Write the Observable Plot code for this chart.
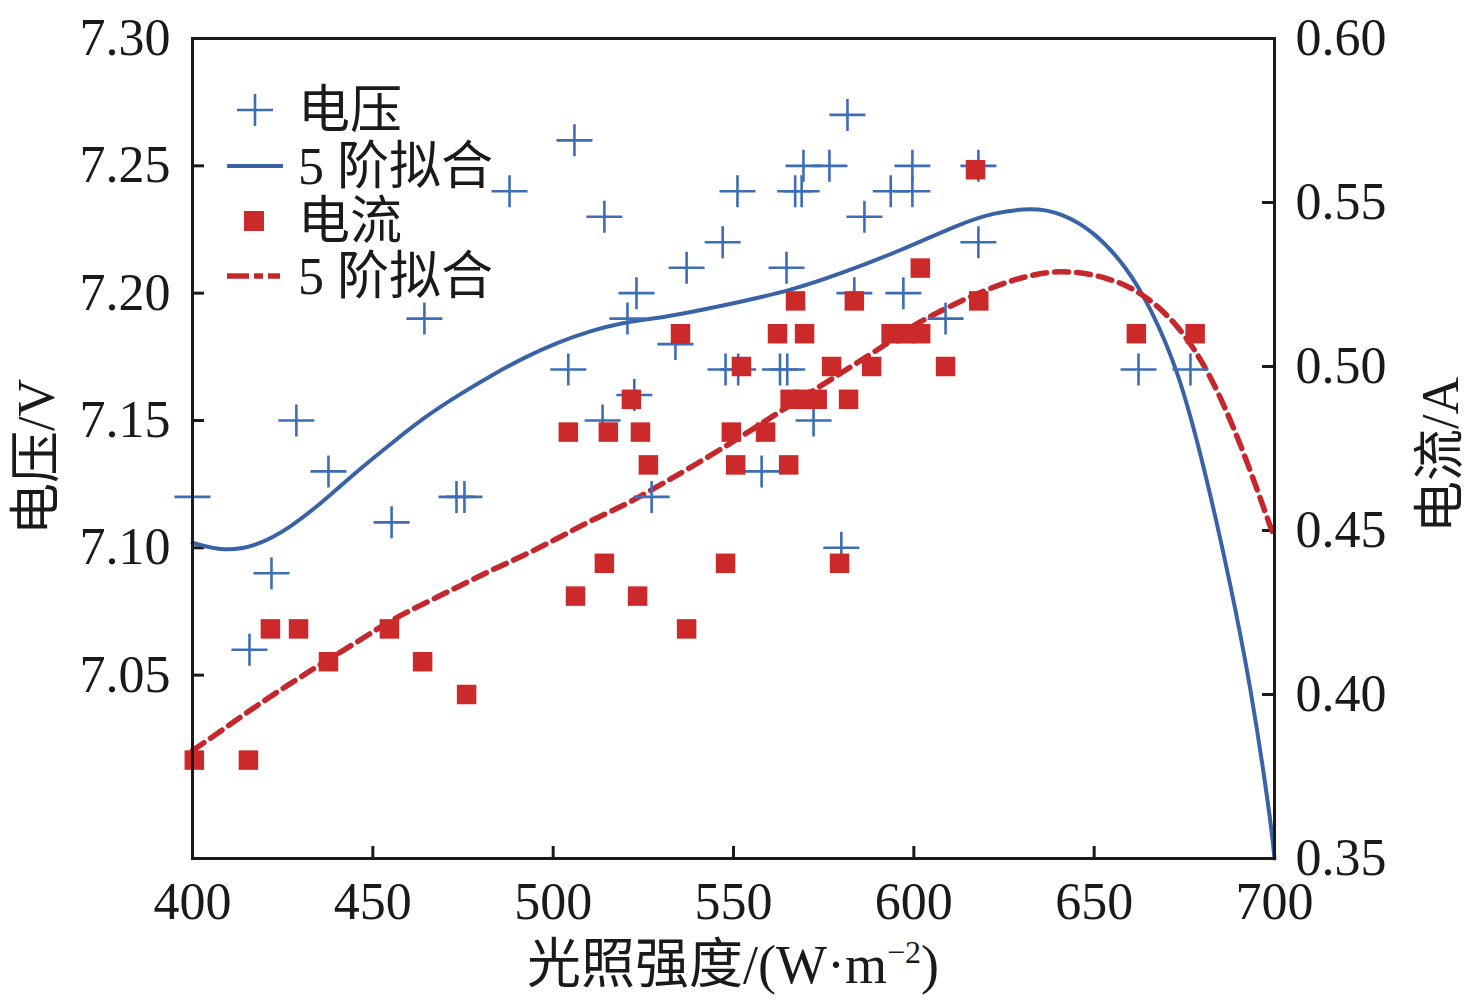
<!DOCTYPE html>
<html><head><meta charset="utf-8">
<script src="https://cdn.jsdelivr.net/npm/d3@7"></script>
<script src="https://cdn.jsdelivr.net/npm/@observablehq/plot@0.6"></script>
<style>body{margin:0;background:#fff}</style>
</head><body><div id="chart"></div>
<script>
// ---- data ----
const voltX = [400, 415.8, 421.9, 428.8, 437.7, 455.2, 464.3, 473.2, 475.4, 487.9, 504.2, 505.9, 513.7, 514.2, 520.6, 522.5, 523.1, 527.3, 533.9, 537.0, 547.0, 547.8, 551.1, 551.3, 557.8, 562.9, 564.7, 564.9, 567.1, 568.9, 569.4, 572.2, 576.6, 579.9, 581.6, 583.5, 586.3, 593.6, 597.1, 599.6, 599.6, 608.8, 617.9, 617.9, 662.3, 676.7];
const voltV = [7.12, 7.06, 7.09, 7.15, 7.13, 7.11, 7.19, 7.12, 7.12, 7.24, 7.17, 7.26, 7.15, 7.23, 7.19, 7.16, 7.20, 7.12, 7.18, 7.21, 7.22, 7.17, 7.24, 7.17, 7.13, 7.17, 7.21, 7.17, 7.24, 7.24, 7.25, 7.15, 7.25, 7.10, 7.27, 7.20, 7.23, 7.24, 7.20, 7.25, 7.24, 7.19, 7.25, 7.22, 7.17, 7.17];

const currX = [400.5, 415.5, 421.6, 429.4, 437.7, 454.6, 463.8, 476.0, 504.2, 506.2, 514.2, 515.3, 521.7, 523.4, 524.2, 526.4, 535.3, 537.0, 547.8, 549.4, 550.6, 552.2, 558.9, 562.2, 565.3, 565.7, 567.2, 569.4, 569.7, 573.2, 577.2, 579.4, 581.9, 583.5, 588.3, 593.7, 597.7, 601.9, 601.8, 608.8, 617.1, 618.0, 661.7, 678.0];
const currI = [0.38, 0.38, 0.42, 0.42, 0.41, 0.42, 0.41, 0.40, 0.48, 0.43, 0.44, 0.48, 0.49, 0.43, 0.48, 0.47, 0.51, 0.42, 0.44, 0.48, 0.47, 0.50, 0.48, 0.51, 0.47, 0.49, 0.52, 0.49, 0.51, 0.49, 0.50, 0.44, 0.49, 0.52, 0.50, 0.51, 0.51, 0.51, 0.53, 0.50, 0.56, 0.52, 0.51, 0.51];

// 5th-order fit curves
const fitVX = [400, 408.7, 417.9, 427.1, 436.4, 445.7, 454.9, 464.1, 473.4, 482.6, 491.9, 501.1, 510.3, 519.6, 527.0, 538.1, 551.9, 565.8, 579.7, 596.3, 612.9, 622.1, 632.9, 640.7, 649.8, 659.2, 665.6, 673.1, 680.5, 687.8, 693.3, 698.9, 700];
const fitVY = [7.1020, 7.0985, 7.1007, 7.1079, 7.1184, 7.1302, 7.1407, 7.1511, 7.1597, 7.1675, 7.1747, 7.1806, 7.1852, 7.1885, 7.1898, 7.1925, 7.1966, 7.2010, 7.2076, 7.2167, 7.2273, 7.2316, 7.2336, 7.2316, 7.2245, 7.2100, 7.1943, 7.1707, 7.1320, 7.0858, 7.0465, 6.9938, 6.978];

const fitIX = [400, 408.7, 417.9, 427.1, 436.4, 445.7, 454.9, 464.1, 473.4, 482.6, 491.9, 501.1, 510.3, 519.6, 527.0, 538.1, 551.9, 563.9, 579.7, 585.2, 593.5, 599.1, 612.9, 626.8, 640.7, 654.5, 663.7, 673.1, 682.3, 691.4, 698.9, 700];
const fitIY = [0.3829, 0.3895, 0.3967, 0.4033, 0.4099, 0.4160, 0.4226, 0.4277, 0.4327, 0.4378, 0.4424, 0.4475, 0.4530, 0.4576, 0.4622, 0.4692, 0.4784, 0.4870, 0.4979, 0.5018, 0.5076, 0.5122, 0.5201, 0.5265, 0.5299, 0.5271, 0.5222, 0.5131, 0.4979, 0.4744, 0.4509, 0.448];

const xTicks = [400, 450, 500, 550, 600, 650, 700];
const vTicks = [7.05, 7.10, 7.15, 7.20, 7.25, 7.30];
const iTicks = [0.35, 0.40, 0.45, 0.50, 0.55, 0.60];
const vDomain = [6.978, 7.30];
const iDomain = [0.35, 0.60];

const xLabel = "光照强度/(W·m";
const xLabelSup = "−2";
const yLabelLeft = "电压/V";
const yLabelRight = "电流/A";
const legendLabels = ["电压", "5 阶拟合", "电流", "5 阶拟合"];

// ---- helpers ----
const toV = i => vDomain[0] + (i - iDomain[0]) * (vDomain[1] - vDomain[0]) / (iDomain[1] - iDomain[0]);
const toI = v => iDomain[0] + (v - vDomain[0]) * (iDomain[1] - iDomain[0]) / (vDomain[1] - vDomain[0]);

const volt = voltX.map((x, k) => ({x, v: voltV[k]}));
const curr = currX.map((x, k) => ({x, i: currI[k]}));
const fitV = fitVX.map((x, k) => ({x, v: fitVY[k]}));
const fitI = fitIX.map((x, k) => ({x, i: fitIY[k]}));

const W = 1476, H = 1006, mL = 192, mR = 202, mT = 38, mB = 148;
const fw = W - mL - mR, fh = H - mT - mB;
const ink = "#1a1a1a";
const blueDot = "#3d6db5", blueLine = "#3a63a6", red = "#cc2a2a", redLine = "#c4282d";
const font = "'Liberation Serif','Times New Roman','Noto Sans CJK SC',serif";
const plusSym = {draw(ctx) { ctx.moveTo(-18, 0); ctx.lineTo(18, 0); ctx.moveTo(0, -16); ctx.lineTo(0, 16); }};

const chart = Plot.plot({
  width: W, height: H,
  marginLeft: mL, marginRight: mR, marginTop: mT, marginBottom: mB,
  style: {fontFamily: font, fontSize: "52px", background: "#fff", color: ink},
  x: {domain: [400, 700]},
  y: {domain: vDomain},
  marks: [
    Plot.axisX(xTicks, {tickSize: 0, tickPadding: 24, fontSize: 52, label: null, tickFormat: d => String(d)}),
    Plot.axisY(vTicks, {anchor: "left", tickSize: 0, tickPadding: 22, fontSize: 52, label: null, tickFormat: d => d.toFixed(2)}),
    Plot.axisY(iTicks.map(toV), {anchor: "right", tickSize: 0, tickPadding: 21, fontSize: 52, label: null, tickFormat: d => toI(d).toFixed(2)}),
    Plot.tickY(vTicks, {y: d => d, stroke: ink, strokeWidth: 3, insetRight: fw - 12}),
    Plot.tickY(iTicks.map(toV), {y: d => d, stroke: ink, strokeWidth: 3, insetLeft: fw - 12}),
    Plot.tickX(xTicks, {x: d => d, stroke: ink, strokeWidth: 3, insetTop: fh - 12}),
    Plot.line(fitV, {x: "x", y: "v", stroke: blueLine, strokeWidth: 4, curve: "basis"}),
    Plot.line(fitI, {x: "x", y: d => toV(d.i), stroke: redLine, strokeWidth: 5.5, strokeDasharray: "14,8", curve: "basis"}),
    Plot.dot(volt, {x: "x", y: "v", symbol: plusSym, stroke: blueDot, strokeWidth: 2.6, fill: "none"}),
    Plot.dot(curr, {x: "x", y: d => toV(d.i), symbol: "square", r: 11, fill: red, stroke: "none"}),
    Plot.frame({stroke: ink, strokeWidth: 3})
  ]
});

const svg = d3.select(chart);
// axis titles
svg.append("text")
  .attr("transform", "translate(36,457) rotate(-90)")
  .attr("text-anchor", "middle").attr("dy", "0.35em")
  .style("font-size", "52px").style("font-family", font).attr("fill", ink)
  .text(yLabelLeft);
svg.append("text")
  .attr("transform", "translate(1440,455) rotate(-90)")
  .attr("text-anchor", "middle").attr("dy", "0.35em")
  .style("font-size", "52px").style("font-family", font).attr("fill", ink)
  .text(yLabelRight);
const xt = svg.append("text")
  .attr("x", 733).attr("y", 964)
  .attr("text-anchor", "middle").attr("dy", "0.35em")
  .style("font-size", "54px").style("font-family", font).attr("fill", ink);
xt.append("tspan").text(xLabel);
xt.append("tspan").attr("dy", -20).style("font-size", "32px").text(xLabelSup);
xt.append("tspan").attr("dy", 20).text(")");

// legend
const lg = svg.append("g").style("font-family", font).style("font-size", "52px").attr("fill", ink).attr("text-anchor", "start");
const rows = [110, 166, 221, 276];
lg.append("path").attr("d", `M237,${rows[0]}H273M255,${rows[0] - 16}V${rows[0] + 16}`).attr("stroke", blueDot).attr("stroke-width", 2.6).attr("fill", "none");
lg.append("line").attr("x1", 227).attr("x2", 283).attr("y1", rows[1]).attr("y2", rows[1]).attr("stroke", blueLine).attr("stroke-width", 4);
lg.append("rect").attr("x", 244).attr("y", rows[2] - 10).attr("width", 20).attr("height", 20).attr("fill", red);
lg.append("line").attr("x1", 227).attr("x2", 283).attr("y1", rows[3]).attr("y2", rows[3]).attr("stroke", redLine).attr("stroke-width", 5.5).attr("stroke-dasharray", "22,5,9,5,12");
legendLabels.forEach((t, k) => {
  lg.append("text").attr("x", 298).attr("y", rows[k]).attr("dy", "0.35em").attr("text-anchor", "start").text(t);
});

document.getElementById("chart").appendChild(chart);
</script>
</body></html>
